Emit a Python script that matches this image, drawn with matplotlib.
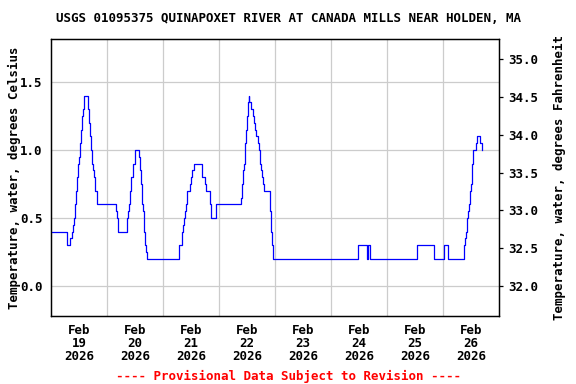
import matplotlib; matplotlib.use("Agg")
import matplotlib.pyplot as plt
import numpy as np
import pandas as pd

# Step change points (hours after 2026-02-18 12:00, deg C)
hours = [0, 7.0, 8.3, 8.9, 9.6, 10.0, 10.4, 10.9, 11.3, 11.7, 12.1, 12.6, 13.0, 13.4, 13.9, 14.1,
         16.0, 16.4, 16.9, 17.3, 17.7, 18.1, 18.6, 19.0, 19.9, 27.7, 28.1, 28.9, 32.4, 32.9, 33.3,
         33.9, 34.4, 35.0, 35.9, 37.6, 38.0, 38.4, 38.9, 39.4, 39.9, 40.3, 40.6, 41.0, 55.0, 56.0,
         56.4, 56.9, 57.3, 57.7, 58.1, 59.4, 59.9, 60.3, 61.4, 64.7, 66.1, 66.6, 68.0, 68.6, 70.7,
         81.3, 81.7, 82.1, 82.6, 83.0, 83.4, 83.9, 84.3, 84.7, 85.0, 85.6, 86.6, 87.1, 87.6, 88.0,
         88.6, 89.0, 89.4, 90.0, 90.4, 90.9, 91.4, 93.7, 94.3, 94.7, 95.3, 131.7, 135.3, 135.7,
         136.6, 156.9, 164.0, 168.4, 170.3, 176.9, 177.4, 178.0, 178.4, 178.9, 179.3, 179.7, 180.1,
         180.6, 181.0, 182.3, 182.7, 184.0, 184.6, 184.9]
temp_c = [0.4, 0.3, 0.35, 0.4, 0.45, 0.5, 0.6, 0.7, 0.8, 0.9, 0.95, 1.05, 1.15, 1.25, 1.3, 1.4,
          1.3, 1.2, 1.1, 1.0, 0.9, 0.85, 0.8, 0.7, 0.6, 0.55, 0.5, 0.4, 0.5, 0.55, 0.6,
          0.7, 0.8, 0.9, 1.0, 0.95, 0.85, 0.75, 0.6, 0.55, 0.4, 0.3, 0.25, 0.2, 0.3, 0.4,
          0.45, 0.5, 0.55, 0.6, 0.7, 0.75, 0.8, 0.85, 0.9, 0.8, 0.75, 0.7, 0.6, 0.5, 0.6,
          0.65, 0.75, 0.85, 0.9, 1.05, 1.15, 1.25, 1.35, 1.4, 1.35, 1.3, 1.25, 1.2, 1.15, 1.1,
          1.05, 1.0, 0.9, 0.85, 0.8, 0.75, 0.7, 0.55, 0.4, 0.3, 0.2, 0.3, 0.2, 0.3,
          0.2, 0.3, 0.2, 0.3, 0.2, 0.3, 0.35, 0.4, 0.5, 0.55, 0.6, 0.7, 0.75,
          0.9, 1.0, 1.05, 1.1, 1.05, 1.0, 1.0]

start = pd.Timestamp("2026-02-18 12:00")
times = start + pd.to_timedelta(hours, unit="h")

day_ticks = pd.date_range("2026-02-19", "2026-02-26", freq="D")
day_labels = ["Feb\n%d\n2026" % d.day for d in day_ticks]
grid_days = pd.date_range("2026-02-19 12:00", "2026-02-25 12:00", freq="D")
c_ticks = [0.0, 0.5, 1.0, 1.5]
f_ticks = [32.0, 32.5, 33.0, 33.5, 34.0, 34.5, 35.0]
ylim_c = (-0.22, 1.816)

font = "DejaVu Sans Mono"
fs = 9.0

fig = plt.figure(figsize=(5.76, 3.84), dpi=100)
ax = fig.add_axes([51/576, 1-316/384, 448/576, 277/384])

ax.plot(times, temp_c, drawstyle="steps-post", color="#0000ff", lw=0.9, zorder=3)

ax.set_xlim(start, start + pd.Timedelta(days=8))
ax.set_ylim(*ylim_c)
ax.set_xticks(day_ticks)
ax.set_xticklabels(day_labels, fontfamily=font, fontweight="bold", fontsize=fs, linespacing=0.98)
ax.set_xticks(grid_days, minor=True)
ax.set_yticks(c_ticks)
ax.set_yticklabels(["%.1f" % v for v in c_ticks], fontfamily=font, fontweight="bold", fontsize=fs)
ax.tick_params(axis="x", which="both", length=0, pad=6)
ax.tick_params(axis="y", length=0, pad=6)
ax.grid(True, axis="x", which="minor", color="#cccccc", lw=0.9)
ax.grid(True, axis="y", which="major", color="#cccccc", lw=0.9)
for s in ax.spines.values():
    s.set_linewidth(0.9)

ax2 = ax.twinx()
ax2.set_ylim(ylim_c[0]*9/5 + 32, ylim_c[1]*9/5 + 32)
ax2.set_yticks(f_ticks)
ax2.set_yticklabels(["%.1f" % v for v in f_ticks], fontfamily=font, fontweight="bold", fontsize=fs)
ax2.tick_params(axis="y", length=3, width=0.9, pad=4)
for s in ax2.spines.values():
    s.set_linewidth(0.9)

fig.text(0.5, 1-18/384, "USGS 01095375 QUINAPOXET RIVER AT CANADA MILLS NEAR HOLDEN, MA",
         ha="center", va="center", fontfamily=font, fontweight="bold", fontsize=fs)
fig.text(14/576, 1-178/384, "Temperature, water, degrees Celsius", rotation=90,
         ha="center", va="center", fontfamily=font, fontweight="bold", fontsize=fs)
fig.text(559/576, 1-178/384, "Temperature, water, degrees Fahrenheit", rotation=90,
         ha="center", va="center", fontfamily=font, fontweight="bold", fontsize=fs)
fig.text(0.5, 1-376/384, "---- Provisional Data Subject to Revision ----",
         ha="center", va="center", color="#ff0000", fontfamily=font, fontweight="bold", fontsize=fs)

fig.savefig("out.png", dpi=100)
